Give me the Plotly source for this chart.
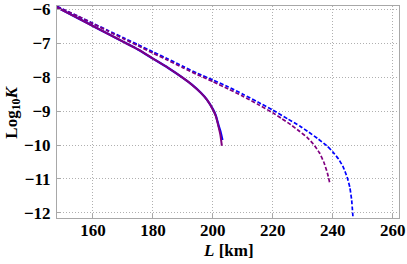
import plotly.graph_objects as go

# Solid curves (purple on top of blue)
L_solid_purple = [148, 155, 160, 165, 170, 175, 180, 185, 190, 193, 196, 198, 200, 201, 202, 202.5, 203]
K_solid_purple = [-5.94, -6.26, -6.49, -6.72, -6.95, -7.18, -7.45, -7.72, -8.02, -8.22, -8.46, -8.66, -8.95, -9.15, -9.5, -9.7, -10.02]

L_solid_blue = [148, 155, 160, 165, 170, 175, 180, 185, 190, 193, 196, 198, 200, 201, 202, 202.6, 203.2]
K_solid_blue = [-5.94, -6.26, -6.49, -6.72, -6.95, -7.18, -7.45, -7.72, -8.02, -8.22, -8.46, -8.66, -8.94, -9.13, -9.45, -9.62, -9.85]

# Dashed curves
L_dash_purple = [148, 155, 160, 165, 170, 175, 180, 185, 190, 195, 200, 205, 210, 215, 220, 223, 226, 229, 231.5, 233.5, 235.5, 237, 238.2, 239]
K_dash_purple = [-5.92, -6.2, -6.42, -6.64, -6.86, -7.07, -7.29, -7.5, -7.72, -7.93, -8.13, -8.34, -8.56, -8.8, -9.05, -9.22, -9.4, -9.6, -9.78, -9.97, -10.22, -10.5, -10.82, -11.12]

L_dash_blue = [148, 155, 160, 165, 170, 175, 180, 185, 190, 195, 200, 205, 210, 215, 220, 225, 229, 232, 235, 238, 240, 242, 243.5, 244.8, 245.7, 246.3, 246.8]
K_dash_blue = [-5.91, -6.2, -6.41, -6.62, -6.83, -7.04, -7.25, -7.46, -7.68, -7.89, -8.08, -8.28, -8.5, -8.73, -8.97, -9.23, -9.44, -9.62, -9.81, -10.02, -10.2, -10.42, -10.65, -10.95, -11.25, -11.62, -12.2]

x_ticks = [160, 180, 200, 220, 240, 260]
y_ticks = [-6, -7, -8, -9, -10, -11, -12]

x_title = "<b><i>L</i> [km]</b>"
y_title = "<b>Log<sub>10</sub><i>K</i></b>"

PURPLE = "#800080"
BLUE = "#0000ff"
FONT = "Liberation Serif, Times New Roman, DejaVu Serif, serif"

fig = go.Figure()
fig.add_trace(go.Scatter(x=L_dash_blue, y=K_dash_blue, mode="lines",
                         line=dict(color=BLUE, width=1.7, dash="4px,2px", shape="spline", smoothing=0.5)))
fig.add_trace(go.Scatter(x=L_dash_purple, y=K_dash_purple, mode="lines",
                         line=dict(color=PURPLE, width=1.7, dash="4px,2px", shape="spline", smoothing=0.5)))
fig.add_trace(go.Scatter(x=L_solid_blue, y=K_solid_blue, mode="lines",
                         line=dict(color=BLUE, width=2.2, shape="spline", smoothing=0.5)))
fig.add_trace(go.Scatter(x=L_solid_purple, y=K_solid_purple, mode="lines",
                         line=dict(color=PURPLE, width=2, shape="spline", smoothing=0.5)))

axis_common = dict(
    showgrid=True, gridcolor="#b0b0b0", griddash="1px,2px", gridwidth=1,
    showline=True, linecolor="#a8a8a8", linewidth=1, mirror=True,
    ticks="inside", ticklen=4, tickcolor="#a8a8a8",
    zeroline=False, automargin=False,
    tickfont=dict(family=FONT, size=17, color="black", weight="bold"),
)

fig.update_layout(
    width=407, height=264,
    margin=dict(l=57, r=8, t=6, b=46),
    paper_bgcolor="white", plot_bgcolor="white",
    showlegend=False,
    xaxis=dict(range=[148, 262.1], tickvals=x_ticks, ticklabelstandoff=-3, **axis_common),
    yaxis=dict(range=[-12.15, -5.9], tickvals=y_ticks, ticklabelstandoff=2, **axis_common),
    annotations=[
        dict(text=x_title, xref="paper", yref="paper", x=0.5, y=-0.155,
             xanchor="center", yanchor="middle", showarrow=False,
             font=dict(family=FONT, size=17, color="black")),
        dict(text=y_title, xref="paper", yref="paper", x=-0.1295, y=0.5,
             xanchor="center", yanchor="middle", showarrow=False, textangle=-90,
             font=dict(family=FONT, size=17, color="black")),
    ],
)

fig.write_html("out.html", config={"displayModeBar": False},
               post_script="document.body.style.margin='0';document.body.style.overflow='hidden';")
